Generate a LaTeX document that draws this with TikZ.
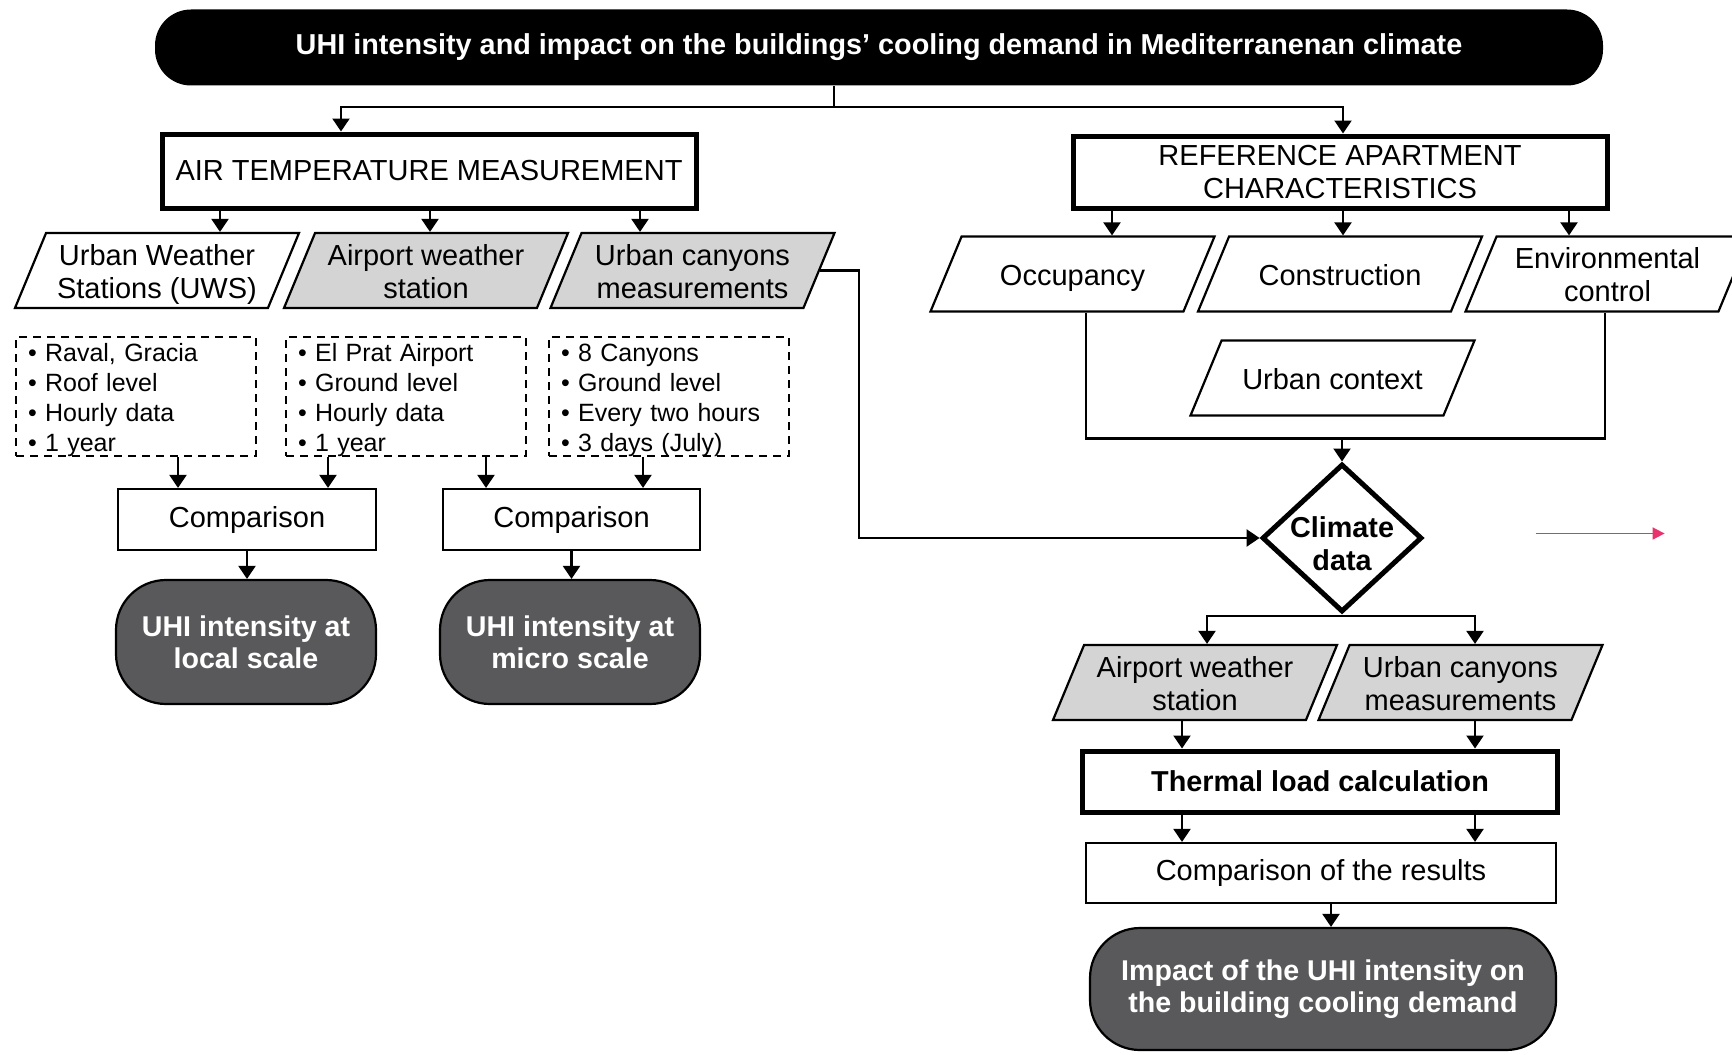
\documentclass[tikz,border=0pt]{standalone}
\usepackage{fontspec}
\setmainfont{Liberation Sans}
\usepackage[dvipsnames]{xcolor}
\usetikzlibrary{arrows.meta}
\usetikzlibrary{positioning}
\usetikzlibrary{shapes.geometric}
\definecolor{boxgray}{HTML}{D4D4D4}
\definecolor{resgray}{HTML}{59595B}
\definecolor{pinkarrow}{HTML}{E8336D}

\begin{document}
\begin{tikzpicture}[x=0.5pt,y=-0.5pt,
		line/.style={line width=1.1pt},
		arr/.style={line width=1.1pt, -{Triangle[length=6.5pt,width=8.5pt]}},
		titlebox/.style={fill=black, text=white, rounded corners=18pt, minimum width=724pt, minimum height=38pt, font=\fontsize{14.4}{16.5}\selectfont\bfseries},
		mainbox/.style={draw, line width=2.5pt, align=center, font=\fontsize{14.5}{16.5}\selectfont},
		inbox/.style={draw, line width=1.1pt, trapezium, trapezium left angle=67.5, trapezium right angle=112.5, trapezium stretches body, minimum width=142pt, minimum height=37.5pt, inner xsep=2pt, inner ysep=0pt, text height=32.7pt, text depth=4.8pt, align=center, font=\fontsize{14.5}{16.5}\selectfont},
		oneline/.style={text height=24.5pt, text depth=13pt},
		grayin/.style={inbox, fill=boxgray},
		listbox/.style={draw, dash pattern=on 4pt off 3pt, line width=1pt, minimum height=59.5pt, text width=108pt, inner xsep=6pt, inner ysep=1pt, text height=11pt, text depth=45.7pt, align=left, font=\fontsize{12.5}{15}\selectfont},
		plainbox/.style={draw, line width=1.1pt, minimum height=30.5pt, font=\fontsize{14.5}{16.5}\selectfont},
		resbox/.style={draw, fill=resgray, text=white, line width=1.1pt, rounded corners=25pt, minimum height=62pt, align=center, font=\fontsize{14.3}{16}\selectfont\bfseries},
		decision/.style={diamond, draw, line width=2.5pt, aspect=1.08, inner sep=-1.6pt, minimum width=79.5pt, minimum height=73.5pt, text height=32pt, text depth=-5pt, align=center, font=\fontsize{14.4}{16.5}\selectfont\bfseries}]
	\clip (0,0) rectangle (1732,1054);
	% title
	\node[titlebox] (title) at (879,47.5) {UHI intensity and impact on the buildings' cooling demand in Mediterranenan climate};
	\coordinate (split) at (834,107);
	
	% left branch: measurement
	\node[mainbox, minimum width=267pt, minimum height=37pt] (air) at (429,171) {AIR TEMPERATURE MEASUREMENT};
	\node[inbox] (uws) at (157,270.5) {Urban Weather\\Stations (UWS)};
	\node[grayin] (apt) at (426,270.5) {Airport weather\\station};
	\node[grayin] (ucm) at (692.5,270.5) {Urban canyons\\measurements};
	\node[listbox] (lst1) at (136,396.5) {\textbullet\ Raval, Gracia\\\textbullet\ Roof level\\\textbullet\ Hourly data\\\textbullet\ 1 year};
	\node[listbox] (lst2) at (406,396.5) {\textbullet\ El Prat Airport\\\textbullet\ Ground level\\\textbullet\ Hourly data\\\textbullet\ 1 year};
	\node[listbox] (lst3) at (669,396.5) {\textbullet\ 8 Canyons\\\textbullet\ Ground level\\\textbullet\ Every two hours\\\textbullet\ 3 days (July)};
	\node[plainbox, minimum width=129pt] (cmp1) at (247,519.5) {Comparison};
	\node[plainbox, minimum width=128.5pt] (cmp2) at (571.5,519.5) {Comparison};
	\node[resbox, minimum width=130pt] (local) at (246,642) {UHI intensity at\\local scale};
	\node[resbox, minimum width=130pt] (micro) at (570,642) {UHI intensity at\\micro scale};
	
	% right branch: apartment
	\node[mainbox, minimum width=267pt, minimum height=36pt] (ref) at (1340,172) {REFERENCE APARTMENT\\CHARACTERISTICS};
	\node[inbox, oneline] (occ) at (1072.5,274) {Occupancy};
	\node[inbox, oneline] (con) at (1340,274) {Construction};
	\node[inbox] (env) at (1607.5,274) {Environmental\\control};
	\node[inbox, oneline] (ctx) at (1332.5,378) {Urban context};
	\node[decision] (clim) at (1342,538) {Climate\\data};
	\node[grayin] (apt2) at (1195,682.5) {Airport weather\\station};
	\node[grayin] (ucm2) at (1460.5,682.5) {Urban canyons\\measurements};
	\node[mainbox, minimum width=237.5pt, minimum height=30.5pt, font=\fontsize{14.4}{16.5}\selectfont\bfseries] (therm) at (1320,781.5) {Thermal load calculation};
	\node[plainbox, minimum width=235pt, minimum height=30pt] (cres) at (1321,873) {Comparison of the results};
	\node[resbox, minimum width=233pt, minimum height=61pt] (impact) at (1323,989) {Impact of the UHI intensity on\\the building cooling demand};
	
	% connectors from title
	\draw[line] (title.south -| split) -- (split);
	\draw[arr] (split) -| (air.north -| 341,0);
	\draw[arr] (split) -| (ref.north -| 1343,0);
	
	% connectors left
	\draw[arr] (air.south -| 220,0) -- (uws.north -| 220,0);
	\draw[arr] (air.south -| 430,0) -- (apt.north -| 430,0);
	\draw[arr] (air.south -| 640,0) -- (ucm.north -| 640,0);
	\draw[arr] (lst1.south -| 178,0) -- (cmp1.north -| 178,0);
	\draw[arr] (lst2.south -| 328,0) -- (cmp1.north -| 328,0);
	\draw[arr] (lst2.south -| 486,0) -- (cmp2.north -| 486,0);
	\draw[arr] (lst3.south -| 643,0) -- (cmp2.north -| 643,0);
	\draw[arr] (cmp1.south) -- (cmp1.south |- local.north);
	\draw[arr] (cmp2.south) -- (cmp2.south |- micro.north);
	\draw[arr] (ucm.east) -- (ucm.east -| 859,0) |- (clim.west);
	
	% connectors right
	\draw[arr] (ref.south -| 1112,0) -- (occ.north -| 1112,0);
	\draw[arr] (ref.south -| 1343,0) -- (con.north -| 1343,0);
	\draw[arr] (ref.south -| 1569,0) -- (env.north -| 1569,0);
	\draw[line] (occ.south -| 1086,0) |- (1605,438.5) -- (env.south -| 1605,0);
	\draw[arr] (clim.north |- 0,438.5) -- (clim.north);
	\draw[line] (clim.south) -- (clim.south |- 0,616);
	\draw[arr] (clim.south |- 0,616) -| (apt2.north -| 1207,0);
	\draw[arr] (clim.south |- 0,616) -| (ucm2.north -| 1475,0);
	\draw[arr] (apt2.south -| 1182,0) -- (therm.north -| 1182,0);
	\draw[arr] (ucm2.south -| 1475,0) -- (therm.north -| 1475,0);
	\draw[arr] (therm.south -| 1182,0) -- (cres.north -| 1182,0);
	\draw[arr] (therm.south -| 1475,0) -- (cres.north -| 1475,0);
	\draw[arr] (cres.south -| 1331,0) -- (impact.north -| 1331,0);
	
	% pink marker arrow
	\coordinate (pinkstart) at (1535.5,533.5);
	\coordinate (pinkend) at (1664.6,533.5);
	\draw[pinkarrow, line width=0.8pt, -{Triangle[length=6pt,width=6pt]}] (pinkstart) -- (pinkend);
\end{tikzpicture}
\end{document}
